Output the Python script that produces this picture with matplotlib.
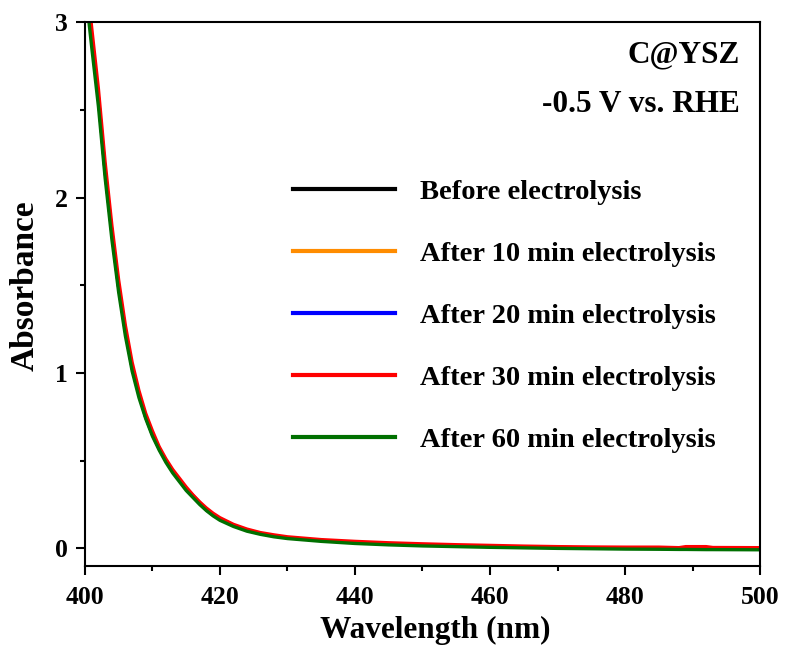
import matplotlib
matplotlib.use("Agg")
import matplotlib.pyplot as plt
from matplotlib.ticker import MultipleLocator

plt.rcParams['font.family'] = ['Liberation Serif', 'DejaVu Serif']
plt.rcParams['font.weight'] = 'bold'

# wavelength grid (nm)
wavelength = [400.6, 401, 402, 403, 404, 405, 406, 407, 408, 409, 410, 411, 412, 413,
              414, 415, 416, 417, 418, 419, 420, 422, 424, 426, 428, 430, 435, 440,
              445, 450, 455, 460, 465, 470, 475, 480, 485, 488, 489, 492, 493, 500]

# visible curves (red sits just above green)
abs_30 = [3.12, 2.97, 2.62, 2.20, 1.84, 1.53, 1.27, 1.06, 0.90, 0.77, 0.67, 0.58, 0.51, 0.45,
          0.40, 0.35, 0.305, 0.265, 0.23, 0.20, 0.175, 0.137, 0.110, 0.090, 0.077, 0.066, 0.050, 0.040,
          0.032, 0.026, 0.021, 0.017, 0.013, 0.010, 0.008, 0.007, 0.007, 0.004, 0.010, 0.010, 0.005, 0.004]
abs_60 = [3.00, 2.86, 2.52, 2.11, 1.76, 1.46, 1.21, 1.01, 0.86, 0.74, 0.64, 0.56, 0.49, 0.43,
          0.38, 0.33, 0.29, 0.25, 0.215, 0.185, 0.16, 0.125, 0.098, 0.080, 0.066, 0.056, 0.040, 0.028,
          0.020, 0.014, 0.010, 0.006, 0.003, 0.000, -0.002, -0.004, -0.005, -0.006, -0.006, -0.007, -0.007, -0.008]
# curves hidden underneath
abs_mid = [3.06, 2.92, 2.57, 2.15, 1.80, 1.49, 1.24, 1.03, 0.88, 0.75, 0.65, 0.57, 0.50, 0.44,
           0.39, 0.34, 0.30, 0.26, 0.22, 0.19, 0.168, 0.131, 0.104, 0.085, 0.071, 0.061, 0.045, 0.034,
           0.026, 0.020, 0.015, 0.011, 0.008, 0.005, 0.003, 0.001, 0.000, -0.001, 0.002, 0.002, -0.001, -0.002]

labels = ["Before electrolysis", "After 10 min electrolysis", "After 20 min electrolysis",
          "After 30 min electrolysis", "After 60 min electrolysis"]
colors = ["black", "#ff8c00", "#0000ff", "#ff0000", "#007000"]
series = [abs_mid, abs_mid, abs_mid, abs_30, abs_60]

fig = plt.figure(figsize=(7.86, 6.49), dpi=100)
ax = fig.add_axes([0.108, 0.128, 0.859, 0.838])

for y, c, lab in zip(series, colors, labels):
    ax.plot(wavelength, y, color=c, lw=2.4, label=lab)

ax.set_xlim(400, 500)
ax.set_ylim(-0.1, 3)
ax.xaxis.set_major_locator(MultipleLocator(20))
ax.xaxis.set_minor_locator(MultipleLocator(10))
ax.yaxis.set_major_locator(MultipleLocator(1))
ax.yaxis.set_minor_locator(MultipleLocator(0.5))
ax.tick_params(which='both', direction='out', width=1.5, top=False, right=False,
               labelsize=18.5)
ax.tick_params(which='major', length=6.5)
ax.tick_params(axis='x', which='major', pad=8)
ax.tick_params(axis='y', which='major', pad=6)
ax.tick_params(which='minor', length=3.5)
for s in ax.spines.values():
    s.set_linewidth(1.5)

ax.set_xlabel("Wavelength (nm)", fontsize=22.5, fontweight='bold')
ax.set_ylabel("Absorbance", fontsize=24, fontweight='bold')
ax.xaxis.label.set_va('center')
ax.yaxis.label.set_va('center')
ax.xaxis.set_label_coords(0.519, -0.118)
ax.yaxis.set_label_coords(-0.089, 0.515)

ax.text(0.97, 0.94, "C@YSZ", transform=ax.transAxes, ha='right', va='center',
        fontsize=22.5, fontweight='bold')
ax.text(0.97, 0.848, "-0.5 V vs. RHE", transform=ax.transAxes, ha='right', va='center',
        fontsize=22.5, fontweight='bold')

leg = ax.legend(loc='upper left', bbox_to_anchor=(0.308, 0.712), frameon=False,
                fontsize=20.5, handlelength=3.58, handletextpad=0.88, labelspacing=1.27,
                borderpad=0, borderaxespad=0)
for line in leg.get_lines():
    line.set_linewidth(3)

fig.savefig("out.png", dpi=100)
